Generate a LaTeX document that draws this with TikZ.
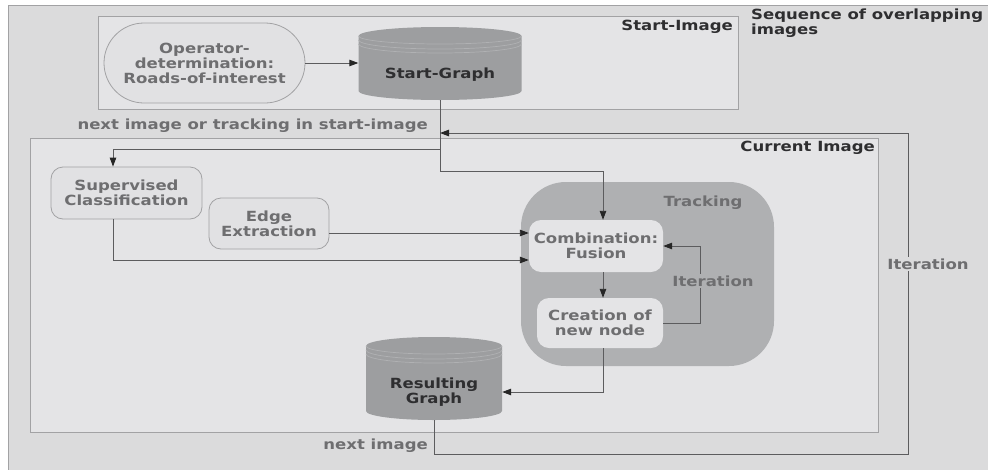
\documentclass[tikz,border=0pt]{standalone}
\usepackage{fontspec}
\setmainfont{DejaVu Sans}[FakeStretch=1.18]
\usetikzlibrary{arrows.meta}

\definecolor{pagebg}{HTML}{DBDBDC}
\definecolor{panel}{HTML}{E4E4E6}
\definecolor{boxfill}{HTML}{E1E1E3}
\definecolor{trackbg}{HTML}{AFB0B2}
\definecolor{drum}{HTML}{9D9EA0}
\definecolor{drumline}{HTML}{B0B1B3}
\definecolor{frame}{HTML}{A2A2A4}
\definecolor{wire}{HTML}{5C5C5E}
\definecolor{txt}{HTML}{6E6E70}
\definecolor{txtdark}{HTML}{2E2E30}

% database drum: left x, right x, top y, bottom y (pixel units, y downwards)
\newcommand\drawdrum[4]{%
  \pgfmathsetmacro\drx{(#2-#1)/2}%
  \fill[drum] (#1,#3+9) -- (#1,#4-9) arc[start angle=180,end angle=0,x radius=\drx,y radius=9]
     -- (#2,#3+9) arc[start angle=0,end angle=-180,x radius=\drx,y radius=9] -- cycle;
  \draw[drumline,line width=0.7pt] (#1,#3+9) arc[start angle=180,end angle=0,x radius=\drx,y radius=8];
  \draw[drumline,line width=0.7pt] (#1,#3+13) arc[start angle=180,end angle=0,x radius=\drx,y radius=9];
  \draw[drumline,line width=0.7pt] (#1,#3+17) arc[start angle=180,end angle=0,x radius=\drx,y radius=9];
}

\tikzset{
  lbl/.style={font=\fontsize{14}{15}\selectfont\bfseries, text=txt, inner sep=0pt, align=center},
  darklbl/.style={lbl, text=txtdark},
  panelbox/.style={draw=frame, fill=panel, line width=0.9pt},
  procbox/.style={lbl, draw=frame, fill=boxfill, line width=0.8pt, rounded corners=12pt},
  innerbox/.style={lbl, draw=none, fill=panel, rounded corners=12pt},
  drumnode/.style={draw=none, inner sep=0pt},
  conn/.style={draw=wire, line width=0.9pt, -{Triangle[length=9pt,width=6.5pt,color=black!85]}},
  plain/.style={draw=wire, line width=0.9pt},
}

\begin{document}
\begin{tikzpicture}[x=1pt,y=-1pt]
\useasboundingbox (0,0) rectangle (988,469);
\fill[white] (0,0) rectangle (988,469);

% outer sheet
\filldraw[fill=pagebg, draw=frame, line width=0.9pt] (8,5) rectangle (992,473);

% start image panel
\draw[panelbox] (98,16) rectangle (738,109);
\node[darklbl, anchor=east] (startimg) at (733,27) {Start-Image};
\node[darklbl, anchor=north west, align=left] (seqlbl) at (751,9) {Sequence of overlapping\\images};

% current image panel
\draw[panelbox] (30,138) rectangle (878,432);
\node[darklbl, anchor=east] (curimg) at (875,148) {Current Image};

% tracking group
\fill[trackbg, rounded corners=45pt] (521,182) rectangle (774,366);
\node[lbl] (tracklbl) at (703,203) {Tracking};

% database drums
\drawdrum{358.5}{521.5}{27}{100}
\node[drumnode, minimum width=163pt, minimum height=73pt] (sg) at (440,63.5) {};
\node[darklbl] (sgtext) at (440,75) {Start-Graph};

\drawdrum{366}{502}{337}{420}
\node[drumnode, minimum width=136pt, minimum height=83pt] (rg) at (434,378.5) {};
\node[darklbl] (rgtext) at (434,392) {Resulting\\Graph};

% process boxes
\node[procbox, rounded corners=40pt, minimum width=201pt, minimum height=80pt] (op) at (204.5,63) {Operator-\\determination:\\Roads-of-interest};
\node[procbox, minimum width=151pt, minimum height=52pt] (sup) at (126.5,193) {Supervised\\Classification};
\node[procbox, minimum width=120pt, minimum height=51pt] (edge) at (269,223.5) {Edge\\Extraction};
\node[innerbox, minimum width=134pt, minimum height=52pt] (comb) at (596,246) {Combination:\\Fusion};
\node[innerbox, minimum width=126pt, minimum height=50pt] (cre) at (600,323) {Creation of\\new node};

% routing helpers
\coordinate (y133) at (0,133);
\coordinate (y149) at (0,149);
\coordinate (y171) at (0,171);
\coordinate (y233) at (0,233);
\coordinate (y260) at (0,260);
\coordinate (y392) at (0,392);
\coordinate (y454) at (0,454);
\coordinate (supx) at (113,0);
\coordinate (combx) at (603,0);
\coordinate (loopx) at (700,0);
\coordinate (outx) at (908,0);

% connectors
\draw[conn] (op.east) -- (op.east -| sg.west);
\draw[plain] (sg.south) -- (sg.south |- y171);
\draw[conn] (sg.south |- y171) -- (combx |- y171) -- (combx |- comb.north);
\draw[conn] (sg.south |- y149) -- (supx |- y149) -- (supx |- sup.north);
\draw[conn] (edge.east |- y233) -- (comb.west |- y233);
\draw[conn] (supx |- sup.south) -- (supx |- y260) -- (comb.west |- y260);
\draw[conn] (combx |- comb.south) -- (combx |- cre.north);
\draw[conn] (cre.east) -- (loopx |- cre.east) -- (loopx |- comb.east) -- (comb.east);
\draw[conn] (combx |- cre.south) -- (combx |- y392) -- (rg.east |- y392);
\draw[conn] (rg.south) -- (rg.south |- y454) -- (outx |- y454) -- (outx |- y133) -- (sg.south |- y133);

% connector labels
\node[lbl, fill=trackbg, inner sep=2pt] (iterin) at (713,281) {Iteration};
\node[lbl, fill=pagebg, inner sep=2pt] (iterout) at (928,264) {Iteration};
\node[lbl, anchor=east] (nextlbl) at (428,126) {next image or tracking in start-image};
\node[lbl, anchor=east] (nextimg) at (428,446) {next image};
\end{tikzpicture}
\end{document}
